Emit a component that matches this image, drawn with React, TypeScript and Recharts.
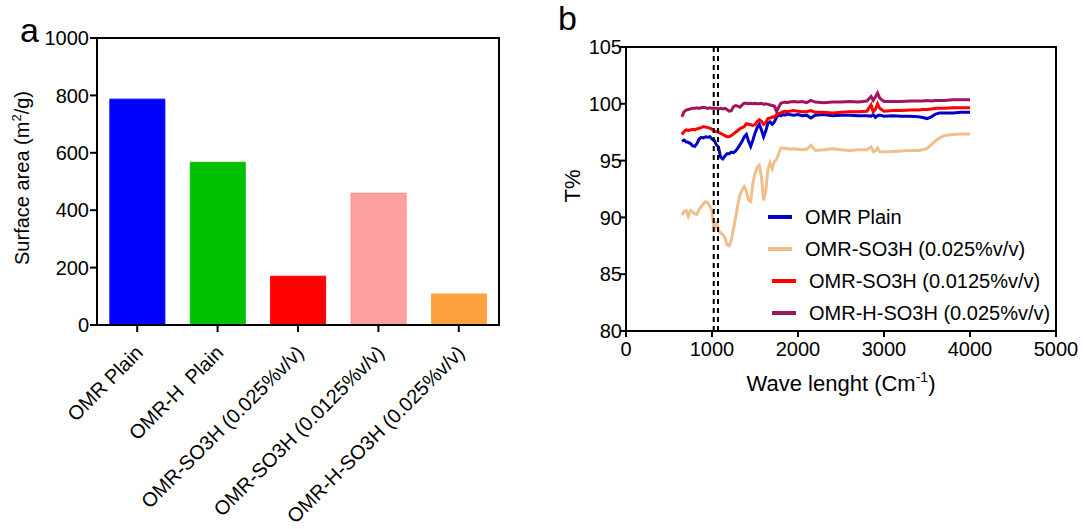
import { Bar, BarChart, Cell, Legend, Line, LineChart, ReferenceArea, ReferenceLine, XAxis, YAxis } from 'recharts'

const FONT = 'Arial, "Liberation Sans", sans-serif'

// panel a: BET surface area
const CATEGORIES = [
  'OMR Plain',
  'OMR-H  Plain',
  'OMR-SO3H (0.025%v/v)',
  'OMR-SO3H (0.0125%v/v)',
  'OMR-H-SO3H (0.025%v/v)',
]
const SURFACE_AREA = [787, 567, 170, 459, 108]
const BAR_FILL = ['#0000ff', '#00c000', '#ff0000', '#ffa0a0', '#ffa040']
const BAR_STROKE = ['#0000ff', '#00c000', '#ff0000', '#ff8888', '#ffa040']
const AREA_TICKS = [0, 200, 400, 600, 800, 1000]

// panel b: FTIR spectra
const WAVE = [
  650, 675, 700, 725, 750, 775, 800, 825, 850, 875,
  900, 925, 950, 975, 1000, 1025, 1050, 1075, 1100, 1125,
  1150, 1175, 1200, 1225, 1250, 1275, 1300, 1325, 1350, 1375,
  1400, 1425, 1450, 1475, 1500, 1525, 1550, 1575, 1600, 1625,
  1650, 1675, 1700, 1725, 1750, 1775, 1800, 1825, 1850, 1875,
  1900, 1950, 2000, 2050, 2100, 2150, 2200, 2300, 2400, 2500,
  2600, 2700, 2800, 2850, 2875, 2900, 2925, 2950, 3000, 3100,
  3200, 3300, 3400, 3450, 3500, 3550, 3600, 3650, 3700, 3800,
  3900, 4000,
]
const T_PLAIN = [
  96.7, 96.8, 96.65, 96.6, 96.5, 96.3, 96.25, 96.5, 96.9, 97.05,
  97.0, 97.1, 97.05, 97.1, 96.9, 96.8, 96.4, 96.2, 95.3, 95.15,
  95.4, 95.6, 95.6, 95.75, 95.7, 95.85, 96.1, 96.4, 96.7, 97.1,
  97.3, 96.7, 96.25, 96.8, 97.4, 97.9, 98.2, 97.7, 97.1, 97.6,
  98.3, 98.4, 98.2, 98.4, 98.8, 99.05, 98.95, 99.05, 99.0, 99.1,
  99.05, 99.0, 99.05, 98.95, 99.0, 98.75, 99.0, 99.05, 98.95, 99.0,
  99.0, 98.95, 98.95, 98.9, 99.05, 98.8, 98.95, 99.0, 98.9, 98.95,
  98.9, 98.9, 98.85, 98.8, 98.7, 98.85, 99.1, 99.2, 99.2, 99.2,
  99.25, 99.25,
]
const T_SO3H_025 = [
  90.2, 90.5, 90.6, 90.1, 90.6, 90.5, 90.3, 90.25, 90.7, 90.95,
  91.2, 91.4, 91.3, 91.0, 90.6, 88.8, 89.6, 88.9, 88.6, 88.5,
  88.2, 87.6, 87.5, 88.0, 89.0, 90.0, 91.1, 92.0, 92.4, 92.7,
  92.3, 91.5, 91.4, 93.0, 93.9, 94.4, 94.6, 93.6, 91.5, 92.3,
  94.2, 94.8, 94.3, 94.9, 95.1, 95.6, 96.1, 96.1, 96.05, 96.1,
  96.0, 96.05, 96.0, 95.95, 96.0, 96.35, 95.9, 95.95, 96.05, 95.95,
  95.9, 95.95, 95.95, 96.2, 95.8, 95.85, 96.1, 95.8, 95.75, 95.8,
  95.85, 95.9, 95.9, 95.95, 96.05, 96.4, 96.75, 97.0, 97.2, 97.3,
  97.35, 97.35,
]
const T_SO3H_0125 = [
  97.3, 97.55, 97.7, 97.65, 97.7, 97.75, 97.7, 97.8, 97.85, 97.9,
  98.0, 97.95, 97.9, 97.85, 97.75, 97.6, 97.55, 97.5, 97.4, 97.3,
  97.2, 97.1, 97.1, 97.2, 97.35, 97.5, 97.65, 97.8, 97.9, 98.0,
  98.25, 98.2, 98.15, 98.1, 98.15, 98.45, 98.6, 98.45, 98.2, 98.35,
  98.7, 98.75, 98.85, 98.8, 99.05, 99.15, 99.2, 99.3, 99.35, 99.3,
  99.35, 99.4, 99.35, 99.3, 99.3, 99.4, 99.25, 99.25, 99.2, 99.25,
  99.3, 99.3, 99.35, 99.9, 99.3, 99.5, 100.0, 99.6, 99.35, 99.4,
  99.4, 99.45, 99.45, 99.5, 99.5, 99.55, 99.6, 99.6, 99.6, 99.65,
  99.65, 99.65,
]
const T_H_SO3H = [
  98.85, 99.3, 99.45, 99.5, 99.55, 99.6, 99.6, 99.65, 99.6, 99.65,
  99.7, 99.65, 99.6, 99.65, 99.6, 99.6, 99.6, 99.55, 99.6, 99.55,
  99.6, 99.5, 99.35, 99.4, 99.75, 99.85, 99.8, 99.7, 99.9, 100.05,
  100.05, 100.0, 100.05, 100.0, 100.05, 100.0, 100.0, 100.05, 99.95, 100.0,
  99.95, 99.9, 99.85, 99.8, 99.35, 99.7, 100.05, 100.1, 100.15, 100.1,
  100.15, 100.2, 100.15, 100.2, 100.1, 100.3, 100.15, 100.1, 100.15, 100.15,
  100.2, 100.15, 100.25, 100.65, 100.3, 100.6, 100.95, 100.5, 100.2, 100.2,
  100.2, 100.25, 100.25, 100.25, 100.3, 100.25, 100.3, 100.3, 100.3, 100.35,
  100.35, 100.35,
]
const WAVE_TICKS = [0, 1000, 2000, 3000, 4000, 5000]
const T_TICKS = [80, 85, 90, 95, 100, 105]
const MARKER_LINES = [1020, 1070]

const SERIES = [
  { key: 'plain', name: 'OMR Plain', color: '#0000c8' },
  { key: 'so3h025', name: 'OMR-SO3H (0.025%v/v)', color: '#f2be8c' },
  { key: 'so3h0125', name: 'OMR-SO3H (0.0125%v/v)', color: '#ff0000' },
  { key: 'hso3h', name: 'OMR-H-SO3H (0.025%v/v)', color: '#a2145c' },
]

const barData = CATEGORIES.map((name, i) => ({ name, value: SURFACE_AREA[i] }))
const specData = WAVE.map((wave, i) => ({
  wave,
  plain: T_PLAIN[i],
  so3h025: T_SO3H_025[i],
  so3h0125: T_SO3H_0125[i],
  hso3h: T_H_SO3H[i],
}))

const axisLine = { stroke: '#000', strokeWidth: 2 }
const tickStyle = { fontSize: 20, fill: '#000', fontFamily: FONT }

function CategoryTick({ x, y, payload }: any) {
  return (
    <g transform={`translate(${x + 7},${y + 20})`}>
      <text
        transform="rotate(-45)"
        textAnchor="end"
        fontSize={20}
        fontFamily={FONT}
        fill="#000"
        style={{ whiteSpace: 'pre' }}
      >
        {payload.value}
      </text>
    </g>
  )
}

function AreaLabel() {
  return (
    <text
      x={29}
      y={178}
      transform="rotate(-90, 29, 178)"
      textAnchor="middle"
      fontSize={20}
      fontFamily={FONT}
      fill="#000"
    >
      Surface area (m
      <tspan dy={-8} fontSize={13}>2</tspan>
      <tspan dy={8}>/g)</tspan>
    </text>
  )
}

function WaveLabel({ viewBox }: any) {
  const cx = viewBox.x + viewBox.width / 2
  return (
    <text x={cx} y={viewBox.y + 60} textAnchor="middle" fontSize={22} fontFamily={FONT} fill="#000">
      Wave lenght (Cm
      <tspan dy={-9} fontSize={14}>-1</tspan>
      <tspan dy={9}>)</tspan>
    </text>
  )
}

function TLabel() {
  return (
    <text
      x={20}
      y={186}
      transform="rotate(-90, 20, 186)"
      textAnchor="middle"
      fontSize={22}
      fontFamily={FONT}
      fill="#000"
    >
      T%
    </text>
  )
}

function SpectraLegend() {
  return (
    <div style={{ fontFamily: FONT, fontSize: 20, color: '#000' }}>
      {SERIES.map((s, i) => (
        <div
          key={s.key}
          style={{ display: 'flex', alignItems: 'center', height: 32, paddingLeft: i >= 2 ? 4 : 0 }}
        >
          <span style={{ width: 24, height: 4, background: s.color, marginRight: 13 }} />
          <span style={{ whiteSpace: 'nowrap' }}>{s.name}</span>
        </div>
      ))}
    </div>
  )
}

export default function App() {
  return (
    <div style={{ position: 'absolute', left: 0, top: 0, width: 1085, height: 529, background: '#fff' }}>
      <div style={{ position: 'absolute', left: 0, top: 0 }}>
        <BarChart
          width={560}
          height={529}
          data={barData}
          margin={{ top: 38, right: 61, bottom: 4, left: 37 }}
          barCategoryGap="16%"
        >
          <XAxis
            dataKey="name"
            height={200}
            interval={0}
            tick={<CategoryTick />}
            tickSize={7}
            axisLine={axisLine}
            tickLine={axisLine}
          />
          <YAxis
            domain={[0, 1000]}
            ticks={AREA_TICKS}
            width={60}
            tickSize={7}
            tickMargin={1}
            tick={tickStyle}
            axisLine={axisLine}
            tickLine={axisLine}
            label={<AreaLabel />}
          />
          <ReferenceArea y1={0} y2={1000} fill="none" stroke="#000" strokeWidth={2} />
          <Bar dataKey="value" isAnimationActive={false} strokeWidth={1}>
            {barData.map((d, i) => (
              <Cell key={d.name} fill={BAR_FILL[i]} stroke={BAR_STROKE[i]} />
            ))}
          </Bar>
        </BarChart>
      </div>

      <div style={{ position: 'absolute', left: 560, top: 0 }}>
        <LineChart
          width={525}
          height={529}
          data={specData}
          margin={{ top: 47, right: 29, bottom: 138, left: 16 }}
        >
          <XAxis
            type="number"
            dataKey="wave"
            domain={[0, 5000]}
            ticks={WAVE_TICKS}
            height={60}
            tickSize={6}
            tickMargin={5}
            tick={tickStyle}
            axisLine={axisLine}
            tickLine={axisLine}
            label={<WaveLabel />}
          />
          <YAxis
            domain={[80, 105]}
            ticks={T_TICKS}
            width={50}
            tickSize={6}
            tickMargin={-2}
            tick={tickStyle}
            axisLine={axisLine}
            tickLine={axisLine}
            label={<TLabel />}
          />
          <ReferenceArea x1={0} x2={5000} y1={80} y2={105} fill="none" stroke="#000" strokeWidth={2} />
          {SERIES.map((s) => (
            <Line
              key={s.key}
              dataKey={s.key}
              name={s.name}
              stroke={s.color}
              strokeWidth={3}
              dot={false}
              type="linear"
              isAnimationActive={false}
            />
          ))}
          {MARKER_LINES.map((x) => (
            <ReferenceLine key={x} x={x} stroke="#000" strokeWidth={2} strokeDasharray="5 4" />
          ))}
          <Legend
            layout="horizontal"
            verticalAlign="middle"
            align="center"
            content={<SpectraLegend />}
            wrapperStyle={{ position: 'absolute', left: 208, top: 201, width: 300 }}
          />
        </LineChart>
      </div>

      <svg width={1085} height={529} style={{ position: 'absolute', left: 0, top: 0, pointerEvents: 'none' }}>
        <text x={20} y={42} fontSize={34} fontFamily={FONT} fill="#000">a</text>
        <text x={558} y={30} fontSize={34} fontFamily={FONT} fill="#000">b</text>
      </svg>
    </div>
  )
}
